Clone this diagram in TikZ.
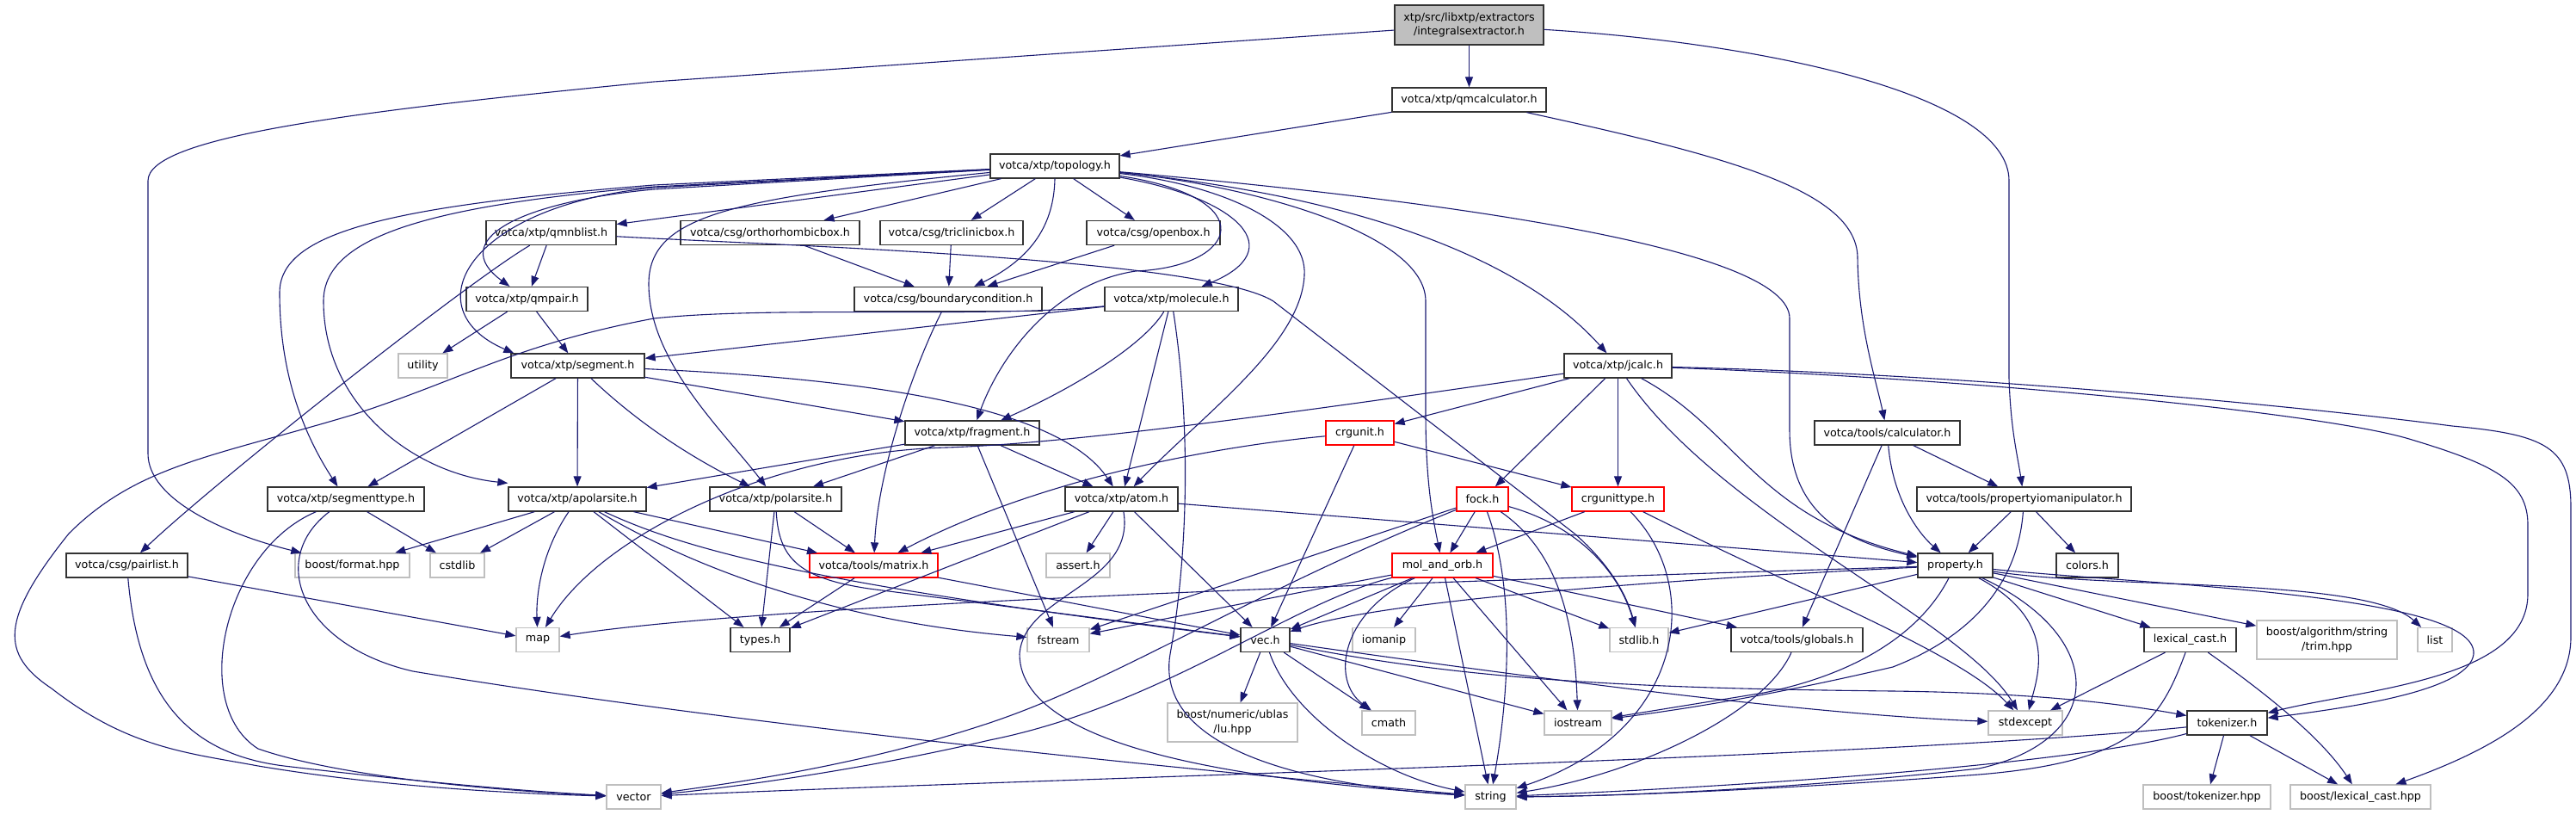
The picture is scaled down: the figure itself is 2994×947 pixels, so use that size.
\documentclass[tikz,border=0pt]{standalone}
\usepackage{fontspec}
\setmainfont{DejaVu Sans}
\usetikzlibrary{arrows.meta}
\definecolor{edgec}{HTML}{191970}
\definecolor{boxc}{HTML}{333333}
\definecolor{extc}{HTML}{BFBFBF}
\definecolor{redc}{HTML}{FF0000}
\definecolor{rootfill}{HTML}{BFBFBF}
\begin{document}
\begin{tikzpicture}[x=1pt,y=-1pt,
  every node/.style={font=\fontsize{12.7}{16.5}\selectfont, inner sep=0pt, minimum height=28pt, rectangle, align=center, text=black},
  nd/.style={draw=boxc, line width=1.3pt, fill=white},
  ext/.style={draw=extc, line width=1.3pt, fill=white},
  rd/.style={draw=redc, line width=1.3pt, fill=white},
  rootbox/.style={draw=boxc, line width=1.3pt, fill=rootfill, minimum height=46pt},
  ed/.style={draw=edgec, line width=1.1pt, -{Triangle[length=12pt,width=9pt]}},
]
\useasboundingbox (0,0) rectangle (2994,947);

% nodes
\node[rootbox, minimum width=173pt] (IE) at (1707.5,29) {xtp/src/libxtp/extractors\\/integralsextractor.h};
\node[nd, minimum width=179pt] (qmcalc) at (1707.5,116) {votca/xtp/qmcalculator.h};
\node[nd, minimum width=150pt] (T) at (1226,193) {votca/xtp/topology.h};
\node[nd, minimum width=151pt] (qmnblist) at (640.5,270.5) {votca/xtp/qmnblist.h};
\node[nd, minimum width=208pt] (ortho) at (895,270.5) {votca/csg/orthorhombicbox.h};
\node[nd, minimum width=166pt] (tricl) at (1106,270.5) {votca/csg/triclinicbox.h};
\node[nd, minimum width=155pt] (openbox) at (1340.5,270.5) {votca/csg/openbox.h};
\node[nd, minimum width=141pt] (qmpair) at (612.5,347.5) {votca/xtp/qmpair.h};
\node[nd, minimum width=218pt] (bound) at (1102,347.5) {votca/csg/boundarycondition.h};
\node[nd, minimum width=155pt] (molecule) at (1361.5,347.5) {votca/xtp/molecule.h};
\node[ext, minimum width=57pt] (utility) at (491.5,425) {utility};
\node[nd, minimum width=155pt] (segment) at (671.5,425) {votca/xtp/segment.h};
\node[nd, minimum width=125pt] (jcalc) at (1880.5,425) {votca/xtp/jcalc.h};
\node[nd, minimum width=156pt] (fragment) at (1130,503) {votca/xtp/fragment.h};
\node[rd, minimum width=79pt] (crgunit) at (1580.5,503) {crgunit.h};
\node[nd, minimum width=169pt] (calc) at (2193.5,503) {votca/tools/calculator.h};
\node[nd, minimum width=182pt] (segtype) at (402,580) {votca/xtp/segmenttype.h};
\node[nd, minimum width=160pt] (apolar) at (671,580) {votca/xtp/apolarsite.h};
\node[nd, minimum width=153pt] (polar) at (901.5,580) {votca/xtp/polarsite.h};
\node[nd, minimum width=131pt] (atom) at (1303.5,580) {votca/xtp/atom.h};
\node[rd, minimum width=60pt] (fock) at (1723,580) {fock.h};
\node[rd, minimum width=107pt] (crgtype) at (1880.5,580) {crgunittype.h};
\node[nd, minimum width=249pt] (propio) at (2352.5,580) {votca/tools/propertyiomanipulator.h};
\node[nd, minimum width=141pt] (pairlist) at (147.5,657) {votca/csg/pairlist.h};
\node[ext, minimum width=133pt] (format) at (409.5,657) {boost/format.hpp};
\node[ext, minimum width=63pt] (cstdlib) at (531.5,657) {cstdlib};
\node[rd, minimum width=149pt] (matrix) at (1015.5,657) {votca/tools/matrix.h};
\node[ext, minimum width=74pt] (asserth) at (1253,657) {assert.h};
\node[rd, minimum width=117pt] (molorb) at (1676.5,657) {mol\_and\_orb.h};
\node[nd, minimum width=87pt] (property) at (2272.5,657) {property.h};
\node[nd, minimum width=72pt] (colors) at (2426,657) {colors.h};
\node[ext, minimum width=50pt] (map) at (625,743.5) {map};
\node[nd, minimum width=69pt] (types) at (883.5,743.5) {types.h};
\node[ext, minimum width=72pt] (fstream) at (1230,743.5) {fstream};
\node[nd, minimum width=57pt] (vec) at (1470.5,743.5) {vec.h};
\node[ext, minimum width=73pt] (iomanip) at (1608.5,743.5) {iomanip};
\node[ext, minimum width=68pt] (stdlib) at (1905,743.5) {stdlib.h};
\node[nd, minimum width=153pt] (globals) at (2088.5,743.5) {votca/tools/globals.h};
\node[nd, minimum width=107pt] (lexcast) at (2545.5,743.5) {lexical\_cast.h};
\node[ext, minimum width=163pt, minimum height=45pt] (trim) at (2704.5,743.5) {boost/algorithm/string\\/trim.hpp};
\node[ext, minimum width=40pt] (list) at (2830,743.5) {list};
\node[ext, minimum width=151pt, minimum height=45pt] (ublas) at (1432.5,839.5) {boost/numeric/ublas\\/lu.hpp};
\node[ext, minimum width=62pt] (cmath) at (1614,840) {cmath};
\node[ext, minimum width=78pt] (iostream) at (1834,840) {iostream};
\node[ext, minimum width=86pt] (stdexcept) at (2354,840) {stdexcept};
\node[nd, minimum width=93pt] (tokenizer) at (2588.5,840) {tokenizer.h};
\node[ext, minimum width=63pt] (vector) at (736.5,926) {vector};
\node[ext, minimum width=59pt] (string) at (1732.5,926) {string};
\node[ext, minimum width=148pt] (btok) at (2565,926) {boost/tokenizer.hpp};
\node[ext, minimum width=163pt] (lexhpp) at (2743.5,926) {boost/lexical\_cast.hpp};

% integralsextractor
\draw[ed] (IE) -- (qmcalc);
\draw[ed] (IE) -- (760,95) .. controls (400,130) and (172,160) .. (172,210) -- (172,527) .. controls (172,580) and (260,620) .. (format);
\draw[ed] (IE) .. controls (2050,50) and (2335,110) .. (2335,210) -- (2335,440) .. controls (2337,500) and (2345,530) .. (propio);

% qmcalculator
\draw[ed] (qmcalc) -- (T);
\draw[ed] (qmcalc) .. controls (2000,180) and (2159,220) .. (2159,300) .. controls (2160,380) and (2180,440) .. (calc);

% topology
\draw[ed] (T) -- (qmnblist);
\draw[ed] (T) -- (ortho);
\draw[ed] (T) -- (tricl);
\draw[ed] (T) -- (openbox);
\draw[ed] (T.south) .. controls (1225,260) and (1200,300) .. (bound);
\draw[ed] (T) .. controls (1440,230) and (1500,290) .. (molecule);
\draw[ed] (T) .. controls (1470,230) and (1440,310) .. (1320,315) .. controls (1220,330) and (1160,420) .. (fragment);
\draw[ed] (T) .. controls (1420,215) and (1520,260) .. (1516,320) .. controls (1512,400) and (1400,480) .. (atom);
\draw[ed] (T) .. controls (1450,215) and (1657,270) .. (1657,350) -- (1657,480) .. controls (1657,560) and (1665,600) .. (molorb);
\draw[ed] (T) .. controls (1550,225) and (1760,290) .. (jcalc);
\draw[ed] (T) .. controls (1700,235) and (2080,290) .. (2080,370) -- (2080,500) .. controls (2080,600) and (2150,630) .. (property);
\draw[ed] (T) -- (760,220) .. controls (600,235) and (520,280) .. (qmpair);
\draw[ed] (T) -- (760,218) .. controls (540,240) and (480,360) .. ([xshift=4pt]segment.north west);
\draw[ed] (T) -- (760,215) .. controls (450,240) and (325,270) .. (325,340) .. controls (325,430) and (350,500) .. (segtype);
\draw[ed] (T) -- (760,217) .. controls (480,240) and (376,280) .. (376,350) .. controls (376,470) and (480,550) .. ([yshift=4pt]apolar.north west);
\draw[ed] (T) .. controls (850,230) and (754,250) .. (754,330) .. controls (754,420) and (840,500) .. (polar);

% qmnblist
\draw[ed] (qmnblist) -- (qmpair);
\draw[ed] (qmnblist) .. controls (540,330) and (250,560) .. (pairlist);
\draw[ed] (qmnblist) .. controls (900,285) and (1400,300) .. (1480,350) -- (1830,620) .. controls (1870,655) and (1890,690) .. (stdlib);

% qmpair
\draw[ed] (qmpair) -- (utility);
\draw[ed] (qmpair) -- (segment);

% boxes
\draw[ed] (ortho) -- (bound);
\draw[ed] (tricl) -- (bound);
\draw[ed] (openbox) -- (bound);
\draw[ed] (bound) .. controls (1060,430) and (1020,550) .. (matrix);

% molecule
\draw[ed] (molecule) -- (segment);
\draw[ed] (molecule) .. controls (1150,370) and (900,355) .. (760,370) .. controls (600,400) and (540,440) .. (410,482) .. controls (250,530) and (160,540) .. (80,620) .. controls (0,720) and (0,760) .. (60,800) .. controls (150,870) and (220,875) .. (300,890) .. controls (450,915) and (600,922) .. (vector);
\draw[ed] (molecule) .. controls (1330,400) and (1250,450) .. (fragment);
\draw[ed] (molecule) -- (atom);
\draw[ed] (molecule) .. controls (1385,500) and (1380,650) .. (1360,760) .. controls (1340,880) and (1550,915) .. (string);

% segment
\draw[ed] (segment) -- (segtype);
\draw[ed] (segment) -- (apolar);
\draw[ed] (segment) .. controls (740,490) and (800,530) .. (polar);
\draw[ed] (segment) -- (fragment);
\draw[ed] (segment) .. controls (1000,440) and (1230,470) .. (atom);

% segmenttype
\draw[ed] (segtype) .. controls (260,640) and (220,820) .. (300,870) .. controls (400,905) and (600,920) .. (vector);
\draw[ed] (segtype) .. controls (310,650) and (350,750) .. (480,780) .. controls (900,850) and (1500,905) .. (string);
\draw[ed] (segtype) -- (cstdlib);

% apolarsite
\draw[ed] (apolar) -- (format);
\draw[ed] (apolar) -- (cstdlib);
\draw[ed] (apolar) .. controls (630,640) and (623,690) .. (map);
\draw[ed] (apolar) -- (types);
\draw[ed] (apolar) -- (matrix);
\draw[ed] (apolar) .. controls (790,650) and (950,720) .. (fstream);
\draw[ed] (apolar) .. controls (800,640) and (950,680) .. (vec);

% polarsite
\draw[ed] (polar) -- (types);
\draw[ed] (polar) -- (matrix);
\draw[ed] (polar) .. controls (905,650) and (930,672) .. (1010,684) -- (vec);

% matrix
\draw[ed] (matrix) -- (types);
\draw[ed] (matrix) -- (vec);

% fragment
\draw[ed] (fragment) -- (polar);
\draw[ed] (fragment) -- (atom);
\draw[ed] (fragment) -- (fstream);
\draw[ed] (fragment) -- (apolar);

% atom
\draw[ed] (atom) -- (matrix);
\draw[ed] (atom) -- (asserth);
\draw[ed] (atom) -- (types);
\draw[ed] (atom) -- (vec);
\draw[ed] (atom) .. controls (1320,680) and (1190,690) .. (1185,760) .. controls (1185,880) and (1500,910) .. (string);
\draw[ed] (atom) -- (property);

% crgunit
\draw[ed] (crgunit) -- (crgtype);
\draw[ed] (crgunit) -- (vec);
\draw[ed] (crgunit) .. controls (1400,520) and (1200,560) .. (matrix);

% jcalc
\draw[ed] (jcalc) .. controls (1500,480) and (1250,515) .. (1100,520) .. controls (900,525) and (700,620) .. (map);
\draw[ed] (jcalc) -- (crgunit);
\draw[ed] (jcalc) -- (fock);
\draw[ed] (jcalc) -- (crgtype);
\draw[ed] (jcalc) .. controls (2000,600) and (2280,720) .. (stdexcept);
\draw[ed] (jcalc) .. controls (2020,500) and (2040,600) .. (property);
\draw[ed] (jcalc) .. controls (2300,440) and (2700,480) .. (2800,510) .. controls (2900,540) and (2938,560) .. (2938,610) -- (2938,690) .. controls (2938,790) and (2750,800) .. (tokenizer);
\draw[ed] (jcalc) .. controls (2300,435) and (2700,475) .. (2850,495) .. controls (2960,505) and (2988,520) .. (2988,590) -- (2988,740) .. controls (2988,820) and (2900,870) .. (lexhpp);

% fock
\draw[ed] (fock) -- (molorb);
\draw[ed] (fock) -- (fstream);
\draw[ed] (fock) .. controls (1450,690) and (1300,790) .. (1150,840) .. controls (1000,890) and (850,910) .. (vector);
\draw[ed] (fock) .. controls (1760,680) and (1755,800) .. (string);
\draw[ed] (fock) .. controls (1810,640) and (1830,720) .. (iostream);
\draw[ed] (fock) .. controls (1830,610) and (1880,660) .. (stdlib);

% crgunittype
\draw[ed] (crgtype) -- (molorb);
\draw[ed] (crgtype) .. controls (1980,680) and (1960,850) .. (string);
\draw[ed] (crgtype) .. controls (2100,690) and (2280,760) .. (stdexcept);

% mol_and_orb
\draw[ed] (molorb) -- (vec);
\draw[ed] (molorb) .. controls (1500,690) and (1350,720) .. (fstream);
\draw[ed] (molorb) .. controls (1500,700) and (1350,820) .. (1150,860) .. controls (1000,895) and (850,915) .. (vector);
\draw[ed] (molorb) -- (iomanip);
\draw[ed] (molorb) .. controls (1560,710) and (1545,790) .. (cmath);
\draw[ed] (molorb) -- (string);
\draw[ed] (molorb) -- (iostream);
\draw[ed] (molorb) -- (stdlib);
\draw[ed] (molorb) -- (globals);

% property
\draw[ed] (property) .. controls (1700,675) and (900,700) .. (map);
\draw[ed] (property) .. controls (1900,675) and (1600,700) .. (vec);
\draw[ed] (property) -- (stdlib);
\draw[ed] (property) .. controls (2230,740) and (2150,785) .. (2050,805) -- (iostream);
\draw[ed] (property) .. controls (2390,720) and (2370,780) .. (stdexcept);
\draw[ed] (property) .. controls (2450,740) and (2450,860) .. (2300,893) .. controls (2100,915) and (1900,925) .. (string);
\draw[ed] (property) -- (lexcast);
\draw[ed] (property) -- (trim);
\draw[ed] (property) .. controls (2450,685) and (2750,670) .. (list);
\draw[ed] (property) .. controls (2500,680) and (2880,690) .. (2875,760) .. controls (2870,800) and (2750,820) .. (tokenizer);

% calculator
\draw[ed] (calc) -- (globals);
\draw[ed] (calc) .. controls (2200,580) and (2230,620) .. (property);
\draw[ed] (calc) -- (propio);

% propertyiomanipulator
\draw[ed] (propio) -- (property);
\draw[ed] (propio) -- (colors);
\draw[ed] (propio) .. controls (2345,680) and (2290,740) .. (2200,775) .. controls (2050,810) and (1950,825) .. (iostream);

% vec
\draw[ed] (vec) -- (ublas);
\draw[ed] (vec) -- (cmath);
\draw[ed] (vec) -- (iostream);
\draw[ed] (vec) .. controls (1500,830) and (1600,900) .. (string);
\draw[ed] (vec) .. controls (1800,790) and (2100,830) .. (stdexcept);
\draw[ed] (vec) .. controls (1700,790) and (1900,800) .. (2200,803) .. controls (2350,805) and (2450,815) .. (tokenizer);

% pairlist
\draw[ed] (pairlist) -- (map);
\draw[ed] (pairlist) .. controls (160,800) and (210,875) .. (330,890) .. controls (500,910) and (620,920) .. (vector);

% globals, lexical_cast, tokenizer
\draw[ed] (globals) .. controls (2050,830) and (1900,900) .. (string);
\draw[ed] (lexcast) -- (stdexcept);
\draw[ed] (lexcast) .. controls (2640,810) and (2700,860) .. (lexhpp);
\draw[ed] (lexcast) .. controls (2510,840) and (2480,885) .. (2300,900) .. controls (2100,915) and (1900,925) .. (string);
\draw[ed] (tokenizer) .. controls (2200,880) and (1200,905) .. (vector);
\draw[ed] (tokenizer) .. controls (2400,890) and (2000,915) .. (string);
\draw[ed] (tokenizer) -- (btok);
\draw[ed] (tokenizer) -- (lexhpp);
\end{tikzpicture}
\end{document}
